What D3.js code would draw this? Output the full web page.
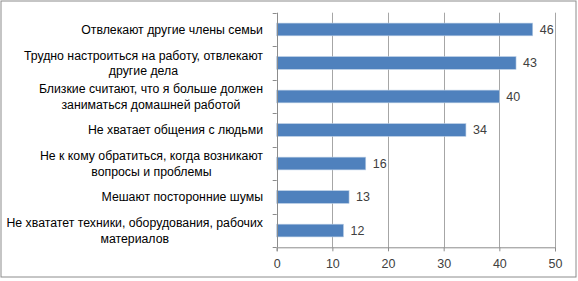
<!DOCTYPE html>
<html><head><meta charset="utf-8">
<script src="https://cdn.jsdelivr.net/npm/d3@7"></script>
<style>body{margin:0;background:#fff}svg{display:block}</style>
</head><body>
<svg id="c" width="578" height="281"></svg>
<script>
const categories = [
  ["Отвлекают другие члены семьи"],
  ["Трудно настроиться на работу, отвлекают", "другие дела"],
  ["Близкие считают, что я больше должен", "заниматься домашней работой"],
  ["Не хватает общения с людьми"],
  ["Не к кому обратиться, когда возникают", "вопросы и проблемы"],
  ["Мешают посторонние шумы"],
  ["Не хвататет техники, оборудования, рабочих", "материалов"]
];
const values = [46, 43, 40, 34, 16, 13, 12];
const xTicks = [0, 10, 20, 30, 40, 50];

(function(){
const svg = d3.select("#c");
const font = "'Liberation Sans', Arial, sans-serif";
svg.append("rect").attr("x",1).attr("y",1).attr("width",575).attr("height",276)
  .attr("fill","#fff").attr("stroke","#8c8c8c").attr("stroke-width",1);

const pL = 276.7, pR = 555, pT = 12.7, pB = 247.3;
const x = d3.scaleLinear().domain([0,50]).range([pL,pR]);
const y = d3.scaleBand().domain(d3.range(categories.length)).range([pT,pB]).paddingInner(0.62).paddingOuter(0.31);

svg.append("g").selectAll("line").data(xTicks.slice(1)).join("line")
  .attr("x1",d=>Math.round(x(d))+0.5).attr("x2",d=>Math.round(x(d))+0.5)
  .attr("y1",pT).attr("y2",pB).attr("stroke","#a6a6a6").attr("stroke-width",1);

svg.append("g").selectAll("rect").data(values).join("rect")
  .attr("x",x(0)).attr("y",(d,i)=>y(i)).attr("width",d=>x(d)-x(0)).attr("height",y.bandwidth())
  .attr("fill","#4f81bd").attr("stroke","#b9cde5").attr("stroke-width",0.6);

const xa = svg.append("g").attr("transform",`translate(0,${pB})`)
  .call(d3.axisBottom(x).tickValues(xTicks).tickSize(4).tickPadding(8).tickFormat(d3.format("d")));
xa.select(".domain").attr("stroke","#8c8c8c");
xa.selectAll(".tick line").attr("stroke","#8c8c8c");
xa.selectAll("text").attr("font-family",font).attr("font-size",12.5).attr("fill","#404040");

const yb = d3.range(categories.length+1).map(i=>pT + i*(pB-pT)/categories.length);
svg.append("line").attr("x1",Math.round(pL)+0.5).attr("x2",Math.round(pL)+0.5).attr("y1",pT).attr("y2",pB).attr("stroke","#8c8c8c");
svg.append("g").selectAll("line").data(yb).join("line")
  .attr("x1",pL-4).attr("x2",pL).attr("y1",d=>Math.round(d)+0.5).attr("y2",d=>Math.round(d)+0.5).attr("stroke","#8c8c8c");

const lab = svg.append("g");
const labRight = 263;
categories.forEach((lines,i)=>{
  const cy = y(i)+y.bandwidth()/2;
  const n = lines.length, lh = 15.5;
  const ts = lines.map((t,j)=> lab.append("text").attr("y",cy + (j-(n-1)/2)*lh)
      .attr("dy","0.35em")
      .attr("font-family",font).attr("font-size",12.3).attr("fill","#000").text(t));
  if (n === 1) {
    ts[0].attr("x",labRight).attr("text-anchor","end");
  } else {
    const w = d3.max(ts, t=>t.node().getComputedTextLength());
    ts.forEach(t=>t.attr("x",labRight - w/2).attr("text-anchor","middle"));
  }
});

svg.append("g").selectAll("text").data(values).join("text")
  .attr("x",d=>x(d)+7).attr("y",(d,i)=>y(i)+y.bandwidth()/2).attr("dy","0.35em")
  .attr("font-family",font).attr("font-size",12.5).attr("fill","#404040").text(d=>d);
})();
</script>
</body></html>
